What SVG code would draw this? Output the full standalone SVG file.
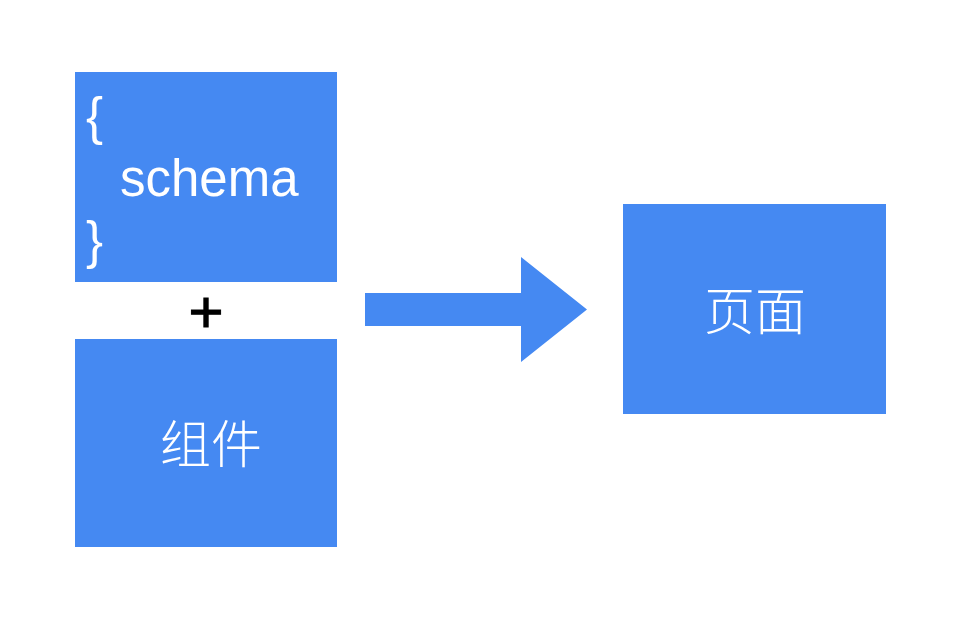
<svg xmlns="http://www.w3.org/2000/svg" width="974" height="626" viewBox="0 0 974 626">
<style>
.box{fill:#4589F2;}
.t{fill:#ffffff;font-family:"Liberation Sans","Noto Sans CJK SC",sans-serif;font-size:51px;}
.cjk{fill:#ffffff;font-family:"Noto Sans CJK SC",sans-serif;font-size:51px;font-weight:300;}
</style>
<rect width="974" height="626" fill="#ffffff"/>
<g id="schema">
<rect class="box" x="75" y="72" width="262" height="210"/>
<text class="t" x="86" y="134">{</text>
<text class="t" x="120" y="196">schema</text>
<text class="t" x="86" y="258">}</text>
</g>
<g id="plus">
<text x="206" y="332" text-anchor="middle" font-family="Liberation Sans, sans-serif" font-size="60" fill="#000000" stroke="#000000" stroke-width="1">+</text>
</g>
<g id="component">
<rect class="box" x="75" y="339" width="262" height="208"/>
<text class="cjk" x="211" y="463" text-anchor="middle">组件</text>
</g>
<g id="page">
<rect class="box" x="623" y="204" width="263" height="210"/>
<text class="cjk" x="755" y="330" text-anchor="middle">页面</text>
</g>
<g id="connectors">
<polygon class="box" points="365,293 521,293 521,257 587,309.5 521,362 521,326 365,326"/>
</g>
</svg>
